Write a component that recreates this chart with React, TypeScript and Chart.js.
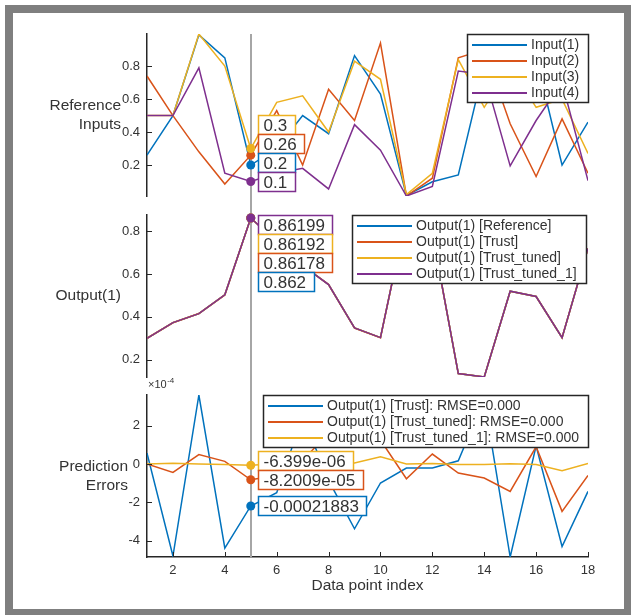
import React, { useEffect, useRef } from 'react';
import { Chart, registerables } from 'chart.js';

Chart.register(...registerables);

// ---------- data ----------
const INDEX = [1, 2, 3, 4, 5, 6, 7, 8, 9, 10, 11, 12, 13, 14, 15, 16, 17, 18];
const TIP_INDEX = 5;

const INPUT_1 = [0.26, 0.5, 0.99, 0.85, 0.2, 0.3, 0.5, 0.39, 0.864, 0.63, 0.015, 0.098, 0.14, 0.8, 0.72, 0.85, 0.2, 0.46];
const INPUT_2 = [0.74, 0.5, 0.28, 0.085, 0.26, 0.53, 0.2, 0.66, 0.47, 0.94, 0.012, 0.12, 0.85, 0.9, 0.45, 0.13, 0.48, 0.15];
const INPUT_3 = [0.5, 0.5, 0.995, 0.8, 0.3, 0.58, 0.62, 0.4, 0.83, 0.72, 0.02, 0.15, 0.84, 0.55, 0.8, 0.55, 0.6, 0.27];
const INPUT_4 = [0.5, 0.5, 0.79, 0.15, 0.1, 0.15, 0.18, 0.055, 0.445, 0.29, 0.012, 0.07, 0.77, 0.75, 0.195, 0.47, 0.7, 0.105];

const OUT_REFERENCE = [0.3, 0.373, 0.415, 0.503, 0.862, 0.75, 0.64, 0.551, 0.348, 0.303, 0.876, 0.79, 0.135, 0.119, 0.52, 0.495, 0.303, 0.72];
const OUT_TRUST = [0.300057, 0.37252, 0.41536, 0.502561, 0.86178117, 0.74985, 0.64025, 0.550915, 0.347662, 0.302901, 0.875979, 0.789979, 0.135017, 0.11934, 0.519515, 0.495095, 0.30257, 0.719857];
const OUT_TRUST_TUNED = [0.3, 0.372956, 0.415049, 0.503014, 0.861917991, 0.74994, 0.64002, 0.55116, 0.34822, 0.303125, 0.875923, 0.790052, 0.134953, 0.118927, 0.519857, 0.49509, 0.302753, 0.71994];
const OUT_TRUST_TUNED_1 = [0.3, 0.373004, 0.415, 0.502997, 0.861993601, 0.750002, 0.639996, 0.551006, 0.348005, 0.303038, 0.876, 0.790003, 0.134997, 0.118997, 0.520002, 0.494997, 0.302965, 0.720003];

const ERR_TRUST = [0.57e-4, -4.8e-4, 3.6e-4, -4.39e-4, -0.00021883, -1.5e-4, 2.5e-4, -0.85e-4, -3.38e-4, -0.99e-4, -0.21e-4, -0.21e-4, 0.17e-4, 3.4e-4, -4.85e-4, 0.95e-4, -4.3e-4, -1.43e-4];
const ERR_TRUST_TUNED = [0.0, -0.44e-4, 0.49e-4, 0.14e-4, -0.000082009, -0.6e-4, 0.2e-4, 1.6e-4, 2.2e-4, 1.25e-4, -0.77e-4, 0.52e-4, -0.47e-4, -0.73e-4, -1.43e-4, 0.9e-4, -2.47e-4, -0.6e-4];
const ERR_TRUST_TUNED_1 = [0.0, 0.04e-4, 0.0, -0.03e-4, -0.000006399, 0.02e-4, -0.04e-4, 0.06e-4, 0.05e-4, 0.38e-4, 0.0, 0.03e-4, -0.03e-4, -0.03e-4, 0.02e-4, -0.03e-4, -0.35e-4, 0.03e-4];

const BLUE = '#0072BD';
const ORANGE = '#D95319';
const YELLOW = '#EDB120';
const PURPLE = '#7E2F8E';

const FONT = '"Liberation Sans", Arial, Helvetica, sans-serif';
const AXIS = '#262626';
const TEXT = '#333333';

interface Series { label: string; data: number[]; color: string; }
interface PanelCfg {
  key: string;
  series: Series[];
  tipOrder: number[];
  yLabel: string[];
  yLabelRight: number;
  yStep: number;
  tickFactor: number;
  exponent: boolean;
  top: number;
  height: number;
  padTop: number;
  padBottom: number;
  showX: boolean;
  vFromArea: boolean;
  vToArea: boolean;
  legendInset: number;
}

function fmtTip(v: number): string {
  if (v === 0) return '0';
  const e = Math.floor(Math.log10(Math.abs(v)));
  if (e < -4) {
    const parts = Math.abs(v).toExponential(4).split('e');
    const mant = parts[0].replace(/\.?0+$/, '');
    const en = parseInt(parts[1], 10);
    return (v < 0 ? '-' : '') + mant + 'e' + (en < 0 ? '-' : '+') + String(Math.abs(en)).padStart(2, '0');
  }
  return String(Number(v.toPrecision(5)));
}

const PANELS: PanelCfg[] = [
  {
    key: 'inputs',
    series: [
      { label: 'Input(1)', data: INPUT_1, color: BLUE },
      { label: 'Input(2)', data: INPUT_2, color: ORANGE },
      { label: 'Input(3)', data: INPUT_3, color: YELLOW },
      { label: 'Input(4)', data: INPUT_4, color: PURPLE },
    ],
    tipOrder: [2, 1, 0, 3],
    yLabel: ['Reference', 'Inputs'],
    yLabelRight: 121,
    yStep: 0.2,
    tickFactor: 1,
    exponent: false,
    top: 0,
    height: 216,
    padTop: 34,
    padBottom: 20,
    showX: false,
    vFromArea: true,
    vToArea: false,
    legendInset: 0,
  },
  {
    key: 'output',
    series: [
      { label: 'Output(1) [Reference]', data: OUT_REFERENCE, color: BLUE },
      { label: 'Output(1) [Trust]', data: OUT_TRUST, color: ORANGE },
      { label: 'Output(1) [Trust_tuned]', data: OUT_TRUST_TUNED, color: YELLOW },
      { label: 'Output(1) [Trust_tuned_1]', data: OUT_TRUST_TUNED_1, color: PURPLE },
    ],
    tipOrder: [3, 2, 1, 0],
    yLabel: ['Output(1)'],
    yLabelRight: 121,
    yStep: 0.2,
    tickFactor: 1,
    exponent: false,
    top: 195,
    height: 202,
    padTop: 20,
    padBottom: 20,
    showX: false,
    vFromArea: false,
    vToArea: false,
    legendInset: 2,
  },
  {
    key: 'errors',
    series: [
      { label: 'Output(1) [Trust]: RMSE=0.000', data: ERR_TRUST, color: BLUE },
      { label: 'Output(1) [Trust_tuned]: RMSE=0.000', data: ERR_TRUST_TUNED, color: ORANGE },
      { label: 'Output(1) [Trust_tuned_1]: RMSE=0.000', data: ERR_TRUST_TUNED_1, color: YELLOW },
    ],
    tipOrder: [2, 1, 0],
    yLabel: ['Prediction', 'Errors'],
    yLabelRight: 128,
    yStep: 2e-4,
    tickFactor: 1e4,
    exponent: true,
    top: 372,
    height: 243,
    padTop: 23,
    padBottom: 0,
    showX: true,
    vFromArea: false,
    vToArea: true,
    legendInset: 0,
  },
];

function makePlugin(p: PanelCfg) {
  return {
    id: 'deco_' + p.key,
    afterDatasetsDraw(chart: any) {
      const ctx: CanvasRenderingContext2D = chart.ctx;
      const a = chart.chartArea;
      const xs = chart.scales.x;
      const ys = chart.scales.y;
      ctx.save();

      // vertical marker line at the datatip index
      const vx = Math.round(xs.getPixelForValue(TIP_INDEX));
      ctx.strokeStyle = '#a6a6a6';
      ctx.lineWidth = 2;
      ctx.beginPath();
      ctx.moveTo(vx, p.vFromArea ? a.top : 0);
      ctx.lineTo(vx, p.vToArea ? a.bottom : chart.height);
      ctx.stroke();

      // inward tick marks
      ctx.strokeStyle = AXIS;
      ctx.lineWidth = 1;
      ctx.beginPath();
      ys.ticks.forEach((t: any) => {
        const py = Math.round(ys.getPixelForValue(t.value)) + 0.5;
        ctx.moveTo(a.left, py);
        ctx.lineTo(a.left + 5, py);
      });
      if (p.showX) {
        xs.ticks.forEach((t: any) => {
          const px = Math.round(xs.getPixelForValue(t.value)) + 0.5;
          ctx.moveTo(px, a.bottom);
          ctx.lineTo(px, a.bottom - 5);
        });
      }
      ctx.stroke();

      // y label (horizontal)
      ctx.fillStyle = TEXT;
      ctx.font = `15.5px ${FONT}`;
      ctx.textAlign = 'right';
      ctx.textBaseline = 'middle';
      const cy = (a.top + a.bottom) / 2;
      p.yLabel.forEach((s, i) => {
        ctx.fillText(s, p.yLabelRight, cy + (i - (p.yLabel.length - 1) / 2) * 18.5);
      });

      // exponent label
      if (p.exponent) {
        ctx.textAlign = 'left';
        ctx.textBaseline = 'alphabetic';
        ctx.font = `11px ${FONT}`;
        ctx.fillText('\u00d710', a.left + 1, a.top - 7);
        const w = ctx.measureText('\u00d710').width;
        ctx.font = `8px ${FONT}`;
        ctx.fillText('-4', a.left + 1 + w + 0.5, a.top - 12);
      }

      // x title
      if (p.showX) {
        ctx.font = `15.5px ${FONT}`;
        ctx.textAlign = 'center';
        ctx.textBaseline = 'middle';
        ctx.fillText('Data point index', (a.left + a.right) / 2, a.bottom + 29);
      }

      // datatips
      const tipX = xs.getPixelForValue(TIP_INDEX);
      const boxH = 19;
      const tips = p.tipOrder.map((si) => {
        const v = p.series[si].data[TIP_INDEX - 1];
        return { si, v, py: ys.getPixelForValue(v), text: fmtTip(v) };
      });
      p.series.forEach((s) => {
        const v = s.data[TIP_INDEX - 1];
        ctx.fillStyle = s.color;
        ctx.beginPath();
        ctx.arc(tipX, ys.getPixelForValue(v), 4.5, 0, Math.PI * 2);
        ctx.fill();
      });
      const centers: number[] = tips.map((t) => t.py);
      for (let i = tips.length - 2; i >= 0; i--) {
        centers[i] = Math.min(tips[i].py, centers[i + 1] - boxH);
      }
      if (centers[0] - boxH / 2 < a.top) {
        centers[0] = Math.max(tips[0].py, a.top + boxH / 2);
        for (let i = 1; i < tips.length; i++) {
          centers[i] = Math.max(tips[i].py, centers[i - 1] + boxH);
        }
      }
      ctx.font = `17px ${FONT}`;
      ctx.textAlign = 'left';
      ctx.textBaseline = 'middle';
      tips.forEach((t, i) => {
        const tw = ctx.measureText(t.text).width;
        const bx = Math.round(tipX + 7) + 0.5;
        const by = Math.round(centers[i] - boxH / 2) + 0.5;
        const bw = Math.round(tw + 13);
        ctx.fillStyle = '#ffffff';
        ctx.fillRect(bx, by, bw, boxH);
        ctx.strokeStyle = p.series[t.si].color;
        ctx.lineWidth = 1.5;
        ctx.strokeRect(bx, by, bw, boxH);
        ctx.fillStyle = TEXT;
        ctx.fillText(t.text, bx + 5, by + boxH / 2 + 1);
      });

      // legend
      ctx.font = `14px ${FONT}`;
      const tw = Math.max(...p.series.map((s) => ctx.measureText(s.label).width));
      const lw = Math.round(5 + 55 + 4 + tw + 9);
      const lh = p.series.length * 16 + 4;
      const right = a.right - p.legendInset;
      const left = right - lw;
      const top = a.top;
      ctx.fillStyle = '#ffffff';
      ctx.fillRect(left, top, lw, lh);
      ctx.strokeStyle = AXIS;
      ctx.lineWidth = 1.5;
      ctx.strokeRect(Math.round(left) + 0.5, Math.round(top) + 0.5, lw, lh);
      p.series.forEach((s, i) => {
        const ry = top + 11 + i * 16;
        ctx.strokeStyle = s.color;
        ctx.lineWidth = 2;
        ctx.beginPath();
        ctx.moveTo(left + 5, ry);
        ctx.lineTo(left + 60, ry);
        ctx.stroke();
        ctx.fillStyle = TEXT;
        ctx.textAlign = 'left';
        ctx.textBaseline = 'middle';
        ctx.fillText(s.label, left + 64, ry + 0.5);
      });

      ctx.restore();
    },
  };
}

function Panel({ p }: { p: PanelCfg }) {
  const ref = useRef<HTMLCanvasElement | null>(null);
  useEffect(() => {
    if (!ref.current) return;
    const all = p.series.flatMap((s) => s.data);
    const yMin = Math.min(...all);
    const yMax = Math.max(...all);
    const xScale: any = {
      type: 'linear',
      min: 1,
      max: 18,
      display: p.showX,
      grid: { display: false, drawTicks: false },
      border: { display: true, color: AXIS, width: 1.5 },
      ticks: {
        stepSize: 2,
        includeBounds: false,
        padding: 6,
        maxRotation: 0,
        color: TEXT,
        font: { size: 13, family: FONT },
      },
    };
    if (p.showX) {
      xScale.afterFit = (s: any) => { s.height = 58; };
    }
    const chart = new Chart(ref.current, {
      type: 'line',
      data: {
        datasets: p.series.map((s, i) => ({
          label: s.label,
          data: INDEX.map((x, k) => ({ x, y: s.data[k] })),
          borderColor: s.color,
          backgroundColor: s.color,
          borderWidth: 1.5,
          pointRadius: 0,
          tension: 0,
          fill: false,
          order: p.series.length - i,
        })),
      },
      options: {
        responsive: false,
        animation: false,
        devicePixelRatio: 1,
        events: [],
        layout: { padding: { left: 0, right: 48, top: p.padTop, bottom: p.padBottom } },
        plugins: {
          legend: { display: false },
          tooltip: { enabled: false },
          title: { display: false },
        },
        scales: {
          x: xScale,
          y: {
            type: 'linear',
            min: yMin,
            max: yMax,
            grid: { display: false, drawTicks: false },
            border: { display: true, color: AXIS, width: 1.5 },
            ticks: {
              stepSize: p.yStep,
              includeBounds: false,
              padding: 7,
              color: TEXT,
              font: { size: 13, family: FONT },
              callback: (v: any) => String(Math.round(Number(v) * p.tickFactor * 100) / 100),
            },
            afterFit: (s: any) => { s.width = 147; },
          },
        },
      } as any,
      plugins: [makePlugin(p)],
    });
    return () => chart.destroy();
  }, [p]);
  return (
    <canvas
      ref={ref}
      width={636}
      height={p.height}
      style={{ position: 'absolute', left: 0, top: p.top, width: 636, height: p.height }}
    />
  );
}

export default function App() {
  return (
    <div style={{ position: 'fixed', left: 0, top: 0, width: 636, height: 615, background: '#ffffff', overflow: 'hidden' }}>
      <div style={{ position: 'absolute', left: 5, top: 5, width: 626, height: 620, background: '#7f7f7f' }} />
      <div style={{ position: 'absolute', left: 13, top: 13, width: 611, height: 596, background: '#ffffff' }} />
      {PANELS.map((p) => (
        <Panel key={p.key} p={p} />
      ))}
    </div>
  );
}
